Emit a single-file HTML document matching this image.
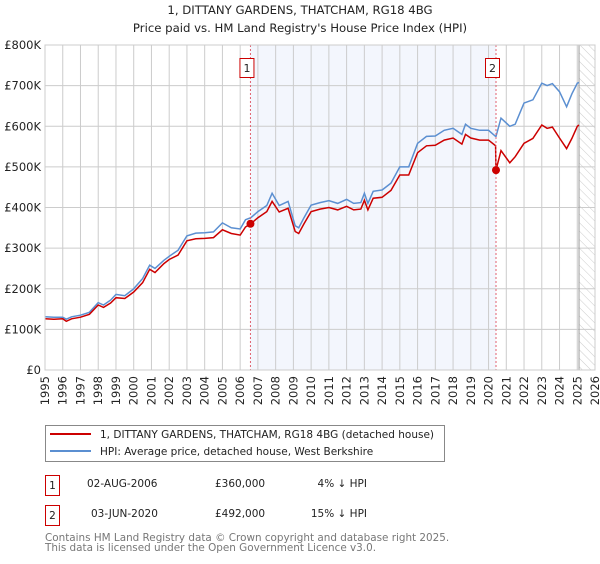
<!DOCTYPE html>
<html><head><meta charset="utf-8"><style>
body{margin:0;background:#fff;width:600px;height:560px;overflow:hidden;font-family:"DejaVu Sans","Liberation Sans",sans-serif;}
svg text{font-family:"DejaVu Sans","Liberation Sans",sans-serif;}
</style></head><body>
<svg id="chart" width="600" height="560" xmlns="http://www.w3.org/2000/svg">
<defs><pattern id="hatch" width="6" height="6" patternUnits="userSpaceOnUse" patternTransform="rotate(-45)"><line x1="0" y1="0" x2="0" y2="6" stroke="#ccc" stroke-width="1"/></pattern></defs>
<text x="300" y="14" text-anchor="middle" font-size="11.7" fill="#222">1, DITTANY GARDENS, THATCHAM, RG18 4BG</text>
<text x="300" y="32" text-anchor="middle" font-size="11.7" fill="#222">Price paid vs. HM Land Registry's House Price Index (HPI)</text>
<g id="plot"></g>
<g>
<rect x="45.5" y="425.5" width="399" height="36" fill="#fff" stroke="#888"/>
<line x1="50" y1="434" x2="91" y2="434" stroke="#cc0000" stroke-width="2"/>
<text x="100" y="438" font-size="10.5" fill="#222">1, DITTANY GARDENS, THATCHAM, RG18 4BG (detached house)</text>
<line x1="50" y1="451" x2="91" y2="451" stroke="#5b8fd1" stroke-width="2"/>
<text x="100" y="455" font-size="10.5" fill="#222">HPI: Average price, detached house, West Berkshire</text>
</g>
<g font-size="10.5" fill="#222">
<rect x="45.5" y="475.5" width="14" height="20" fill="#fff" stroke="#cc0000"/>
<text x="52.5" y="489" text-anchor="middle">1</text>
<text x="87" y="487">02-AUG-2006</text>
<text x="215" y="487">£360,000</text>
<text x="367" y="487" text-anchor="end">4% ↓ HPI</text>
<rect x="45.5" y="505.5" width="14" height="20" fill="#fff" stroke="#cc0000"/>
<text x="52.5" y="519" text-anchor="middle">2</text>
<text x="91" y="517">03-JUN-2020</text>
<text x="215" y="517">£492,000</text>
<text x="367" y="517" text-anchor="end">15% ↓ HPI</text>
</g>
<text x="45" y="541" font-size="10.4" fill="#777">Contains HM Land Registry data © Crown copyright and database right 2025.</text>
<text x="45" y="551" font-size="10.4" fill="#777">This data is licensed under the Open Government Licence v3.0.</text>
</svg>
<script>
const years=[1995,1996,1997,1998,1999,2000,2001,2002,2003,2004,2005,2006,2007,2008,2009,2010,2011,2012,2013,2014,2015,2016,2017,2018,2019,2020,2021,2022,2023,2024,2025,2026];
const yTicks=[0,100,200,300,400,500,600,700,800];
const yLabels=["£0","£100K","£200K","£300K","£400K","£500K","£600K","£700K","£800K"];
const times=[1995,1995.5,1996,1996.2,1996.5,1997,1997.5,1998,1998.3,1998.7,1999,1999.5,2000,2000.5,2000.9,2001.2,2001.7,2002,2002.5,2003,2003.5,2004,2004.5,2005,2005.5,2006,2006.3,2006.6,2007,2007.5,2007.8,2008.2,2008.7,2009.1,2009.3,2009.6,2010,2010.5,2011,2011.5,2012,2012.4,2012.8,2013,2013.2,2013.5,2014,2014.5,2015,2015.5,2016,2016.5,2017,2017.5,2018,2018.5,2018.7,2019,2019.5,2020,2020.4,2020.42,2020.7,2021.2,2021.5,2022,2022.5,2023,2023.3,2023.6,2024,2024.4,2024.7,2025,2025.1];
const hpi=[131,130,130,125,131,135,142,166,160,172,186,183,200,225,258,250,270,280,295,330,337,338,340,362,350,347,370,375,390,405,435,405,415,355,350,375,406,412,417,410,420,410,412,435,410,440,443,460,500,500,558,575,576,590,595,580,605,595,590,590,575,575,620,600,605,657,665,706,700,705,685,648,680,706,708];
const paid=[126,125,126,120,126,130,137,160,154,165,178,176,192,215,248,240,262,272,283,318,323,324,326,345,336,332,352,360,375,390,415,389,398,341,336,360,390,396,400,394,403,394,396,418,394,423,425,442,480,480,535,552,553,566,571,556,580,571,566,566,552,492,540,510,525,558,570,603,595,598,571,545,570,600,603];
const sales=[{t:2006.58,v:360,label:"1"},{t:2020.42,v:492,label:"2"}];
const X0=45,X1=595,Y0=370,Y1=45;
const xs=t=>X0+(t-1995)*(X1-X0)/31;
const ys=v=>Y0-v*(Y0-Y1)/800;
const NS="http://www.w3.org/2000/svg";
const g=document.getElementById('plot');
function mk(tag,attrs,parent){const e=document.createElementNS(NS,tag);for(const k in attrs)e.setAttribute(k,attrs[k]);(parent||g).appendChild(e);return e;}
let e;
e=mk('rect',{x:xs(2006.58),y:Y1,width:xs(2020.42)-xs(2006.58),height:Y0-Y1,fill:'#eef2fc',opacity:0.7});


e=mk('rect',{x:xs(2025.1),y:Y1,width:X1-xs(2025.1),height:Y0-Y1,fill:'url(#hatch)'});


years.forEach(y=>{
 e=mk('line',{x1:xs(y),x2:xs(y),y1:Y1,y2:Y0,stroke:'#ccc','stroke-width':1});
 
 
 e=mk('text',{x:0,y:0,'font-size':11.5,fill:'#222','text-anchor':'end',transform:`translate(${xs(y)+4},${Y0+6}) rotate(-90)`});
 e.textContent=y;
 
 
});
yTicks.forEach((v,i)=>{
 e=mk('line',{x1:X0,x2:X1,y1:ys(v),y2:ys(v),stroke:'#ccc','stroke-width':1});
 
 
 e=mk('text',{x:X0-4,y:ys(v)+4,'font-size':11.5,fill:'#222','text-anchor':'end'});
 e.textContent=yLabels[i];
 
 
});
e=mk('line',{x1:xs(2025.1),x2:xs(2025.1),y1:Y1,y2:Y0,stroke:'#999','stroke-width':1});


function path(arr){return arr.map((v,i)=>(i?'L':'M')+xs(times[i]).toFixed(1)+','+ys(v).toFixed(1)).join(' ');}
e=mk('path',{d:path(hpi),fill:'none',stroke:'#5b8fd1','stroke-width':1.5});


e=mk('path',{d:path(paid),fill:'none',stroke:'#cc0000','stroke-width':1.5});


sales.forEach(s=>{
 e=mk('line',{x1:xs(s.t),x2:xs(s.t),y1:Y1,y2:Y0,stroke:'#e06070','stroke-width':1,'stroke-dasharray':'2,2'});
 
 
 e=mk('circle',{cx:xs(s.t),cy:ys(s.v),r:4,fill:'#cc0000'});
 
 
 e=mk('rect',{x:xs(s.t)-10.5,y:58.5,width:14,height:19,fill:'#fff',stroke:'#cc0000'});
 
 
 e=mk('text',{x:xs(s.t)-3.5,y:72,'font-size':11,fill:'#222','text-anchor':'middle'});
 e.textContent=s.label;
 
 
});
e=mk('rect',{x:X0,y:Y1,width:X1-X0,height:Y0-Y1,fill:'none',stroke:'#ccc'});


</script>
</body></html>
